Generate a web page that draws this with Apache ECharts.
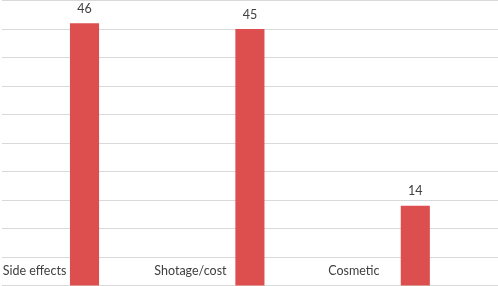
<!DOCTYPE html>
<html>
<head>
<meta charset="utf-8">
<script src="https://cdn.jsdelivr.net/npm/echarts@6/dist/echarts.min.js"></script>
<style>
  html, body { margin: 0; padding: 0; background: #fff; }
  #chart { width: 498px; height: 286px; }
</style>
</head>
<body>
<div id="chart"></div>
<script>
// 三類原因的計數柱狀圖
const categories = ["Side effects", "Shotage/cost", "Cosmetic"];
const counts = [46, 45, 14];
const yTicks = { min: 0, max: 50, interval: 5 };

const BAR_COLOR = "#dd4f4f";
const TEXT_COLOR = "#404040";
const GRID_COLOR = "#d9d9d9";
const FONT = "Lato";
// 類別標籤放在柱子左下方（右側 padding 讓文字往左移）
const labelPadRight = [100, 119, 123];

const chart = echarts.init(document.getElementById("chart"), null, { renderer: "canvas" });

chart.setOption({
  backgroundColor: "#fff",
  animation: false,
  grid: { left: 0, right: 0, top: 0.5, bottom: 0.5, containLabel: false },
  xAxis: {
    type: "category",
    data: categories.map((c, i) => ({
      value: c,
      textStyle: { padding: [0, labelPadRight[i], 0, 0] },
    })),
    axisLine: { show: false },
    axisTick: { show: false },
    axisLabel: {
      inside: true, margin: 8, interval: 0,
      color: TEXT_COLOR, fontFamily: FONT, fontSize: 12.5,
    },
    splitLine: { show: false },
  },
  yAxis: {
    type: "value", ...yTicks,
    axisLine: { show: false }, axisTick: { show: false },
    axisLabel: { show: false },
    splitLine: { lineStyle: { color: GRID_COLOR, width: 1 } },
  },
  series: [{
    type: "bar",
    data: counts,
    barWidth: "17.6%",
    itemStyle: { color: BAR_COLOR },
    label: {
      show: true, position: "top", distance: 8,
      color: TEXT_COLOR, fontFamily: FONT, fontSize: 12.5,
    },
  }],
});
</script>
</body>
</html>
